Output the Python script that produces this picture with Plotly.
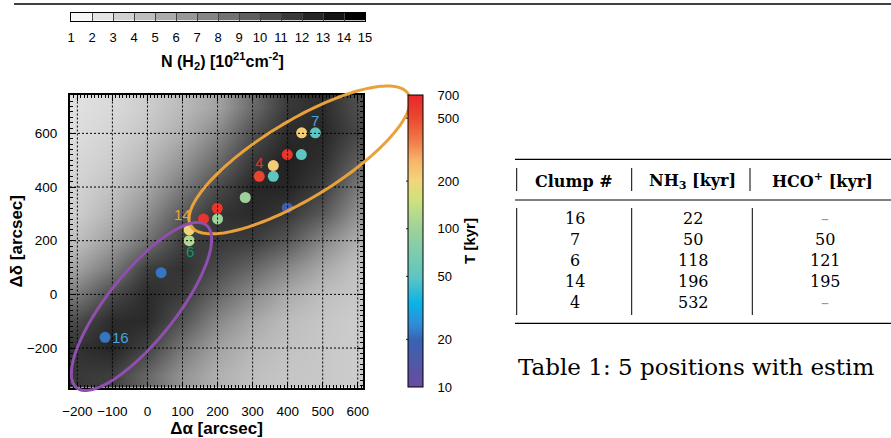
import numpy as np
import plotly.graph_objects as go

W, H = 891, 438
FONT = "Liberation Sans, Arial, sans-serif"
SERIF = "DejaVu Serif, serif"

# ---------------- data ----------------
# N(H2) column density map [1e21 cm^-2], estimated on a coarse grid
map_x = [-200, -100, 0, 100, 200, 300, 400, 500, 600]
map_y = [-300, -200, -100, 0, 100, 200, 300, 400, 500, 600, 700]
map_z = [
    [11.8, 11.5, 9.2, 6.6, 5.0, 4.2, 3.8, 3.7, 3.4],     # -300
    [12.2, 12.9, 11.3, 8.1, 5.8, 4.6, 4.0, 3.7, 3.4],    # -200
    [10.8, 12.6, 12.6, 10.2, 7.3, 5.5, 4.3, 3.8, 3.4],   # -100
    [8.1, 10.8, 12.6, 11.6, 9.2, 7.1, 5.3, 4.2, 3.7],    # 0
    [5.8, 8.1, 11.5, 12.2, 10.8, 9.2, 7.3, 5.4, 4.0],    # 100
    [4.2, 6.0, 8.6, 11.5, 11.8, 11.5, 10.0, 7.3, 5.0],   # 200
    [3.4, 4.8, 6.9, 10.0, 12.1, 12.6, 11.8, 9.9, 6.7],   # 300
    [3.1, 4.0, 5.6, 8.1, 10.8, 12.8, 12.9, 11.5, 8.1],   # 400
    [2.8, 3.4, 4.6, 6.5, 9.0, 11.8, 13.2, 12.3, 9.7],    # 500
    [2.5, 3.0, 3.8, 5.2, 7.3, 10.5, 12.6, 12.8, 11.0],   # 600
    [2.3, 2.7, 3.4, 4.5, 5.8, 9.0, 11.8, 12.5, 10.5],    # 700
]
nh2_levels = [1, 2, 3, 4, 5, 6, 7, 8, 9, 10, 11, 12, 13, 14, 15]

# clump positions [arcsec] and ages [kyr]
clump_x = [479, 440, 399, 439, 359, 319, 359, 279, 399, 199, 160, 200, 119, 119, 39, -121]
clump_y = [602, 602, 521, 521, 480, 440, 440, 361, 322, 321, 281, 281, 240, 200, 81, -160]
clump_T = [50, 220, 600, 50, 220, 532, 50, 100, 18, 600, 600, 100, 196, 118, 22, 22]

label_text = ["7", "4", "14", "6", "16"]
label_x = [479, 319, 100, 121, -76]
label_y = [648, 492, 298, 160, -160]
label_color = ["#4aa3df", "#e5302a", "#e8a33a", "#17936a", "#4aa3df"]

T_ticks = [10, 20, 50, 100, 200, 500, 700]

# ellipses: centre, two conjugate semi-axis vectors (data units)
ell_orange = dict(c=(434, 501), u=(310, 246), v=(58, -124), color="#e9a23b")
ell_purple = dict(c=(-17, -45), u=(185, 303), v=(76, -79), color="#8f4fae")

# table
tab_clump = ["16", "7", "6", "14", "4"]
tab_nh3 = ["22", "50", "118", "196", "532"]
tab_hco = ["–", "50", "121", "195", "–"]

# ---------------- layout geometry ----------------
XR = [-221, 615]
YR = [-347, 743]
XD = [70 / W, 363 / W]
YD = [1 - 387.5 / H, 1 - 95 / H]

def dx2p(x):
    return XD[0] + (x - XR[0]) / (XR[1] - XR[0]) * (XD[1] - XD[0])

def dy2p(y):
    return YD[0] + (y - YR[0]) / (YR[1] - YR[0]) * (YD[1] - YD[0])

def px(x):
    return x / W

def py(y):
    return 1 - y / H

T_scale = [
    [0.0, "#6a4c9c"], [0.160, "#3a62b2"], [0.217, "#2e8ed6"], [0.285, "#0ab2e8"],
    [0.373, "#5cc5c2"], [0.537, "#9ad29c"], [0.639, "#d0e07e"], [0.708, "#f2d67a"],
    [0.776, "#f7b36a"], [0.845, "#f07a48"], [0.919, "#ea4a30"], [1.0, "#e8262a"],
]
gray_scale = [[0, "#f7f7f7"], [1, "#000000"]]

fig = go.Figure()

fig.add_trace(go.Heatmap(
    x=map_x, y=map_y, z=map_z, zmin=1, zmax=15, zsmooth="best",
    colorscale=gray_scale, showscale=False, hoverinfo="skip",
    xaxis="x", yaxis="y"))

Tmin, Tmax = np.log10(T_ticks[0]), np.log10(T_ticks[-1])
fig.add_trace(go.Scatter(
    x=clump_x, y=clump_y, mode="markers", cliponaxis=False,
    marker=dict(size=11, color=np.log10(clump_T), cmin=Tmin, cmax=Tmax,
                colorscale=T_scale, line=dict(width=0),
                colorbar=dict(
                    x=408 / W, xanchor="left", xpad=0,
                    y=1 - (95 + 387) / 2 / H, yanchor="middle", ypad=0,
                    lenmode="pixels", len=292, thicknessmode="pixels", thickness=15,
                    outlinewidth=1, outlinecolor="black",
                    tickvals=np.log10(T_ticks), ticktext=[str(t) for t in T_ticks],
                    ticks="outside", ticklen=12, tickcolor="rgba(0,0,0,0)",
                    tickfont=dict(size=13, family=FONT, color="black"),
                    title=dict(text="<b>T [kyr]</b>", side="right",
                               font=dict(size=15, family=FONT, color="black")))),
    xaxis="x", yaxis="y", showlegend=False, hoverinfo="skip"))

# top N(H2) colour bar
bar_centers = [v + 0.5 for v in nh2_levels[:-1]]
fig.add_trace(go.Heatmap(
    x=bar_centers, y=[0.5], z=[bar_centers], zmin=bar_centers[0], zmax=bar_centers[-1],
    colorscale=gray_scale, showscale=False, hoverinfo="skip", xaxis="x2", yaxis="y2"))

shapes = []
# dotted grid above the map
for gx in range(-200, 601, 100):
    shapes.append(dict(type="line", xref="x", yref="y domain", x0=gx, x1=gx, y0=0, y1=1,
                       line=dict(color="black", width=1, dash="2px,2px"), layer="above"))
for gy in range(-200, 601, 200):
    shapes.append(dict(type="line", xref="x domain", yref="y", x0=0, x1=1, y0=gy, y1=gy,
                       line=dict(color="black", width=1, dash="2px,2px"), layer="above"))

# ellipses
for e in (ell_orange, ell_purple):
    pts = []
    for k in range(181):
        t = 2 * np.pi * k / 180
        ex = e["c"][0] + e["u"][0] * np.cos(t) + e["v"][0] * np.sin(t)
        ey = e["c"][1] + e["u"][1] * np.cos(t) + e["v"][1] * np.sin(t)
        pts.append(f"{dx2p(ex):.5f},{dy2p(ey):.5f}")
    shapes.append(dict(type="path", xref="paper", yref="paper",
                       path="M " + " L ".join(pts) + " Z",
                       line=dict(color=e["color"], width=3), layer="above"))

# colour bar tick dashes
for t in T_ticks[1:-1]:
    yy = 387 - (np.log10(t) - Tmin) / (Tmax - Tmin) * 292
    for x0, x1 in ((406, 412), (418, 423)):
        shapes.append(dict(type="line", xref="paper", yref="paper",
                           x0=px(x0), x1=px(x1), y0=py(yy), y1=py(yy),
                           line=dict(color="#222", width=1)))

# page rule at top
shapes.append(dict(type="line", xref="paper", yref="paper", x0=px(14), x1=1,
                   y0=py(4), y1=py(4), line=dict(color="black", width=1.5)))

# table rules
for yy, lw in ((159.3, 1.3), (200, 1.0), (323.3, 1.3)):
    shapes.append(dict(type="line", xref="paper", yref="paper", x0=px(515), x1=1,
                       y0=py(yy), y1=py(yy), line=dict(color="black", width=lw)))
for xx in (516.7, 631.7, 750):
    shapes.append(dict(type="line", xref="paper", yref="paper", x0=px(xx), x1=px(xx),
                       y0=py(168), y1=py(191), line=dict(color="black", width=1)))
for xx in (516.7, 631.7, 752.3):
    shapes.append(dict(type="line", xref="paper", yref="paper", x0=px(xx), x1=px(xx),
                       y0=py(208), y1=py(315), line=dict(color="black", width=1)))

def ann(x, y, text, size, family, color="black", xref="paper", yref="paper", xanchor="center"):
    return dict(x=x, y=y, xref=xref, yref=yref, text=text, showarrow=False,
                xanchor=xanchor, yanchor="middle",
                font=dict(size=size, family=family, color=color))

annotations = []
for txt, lx, ly, col in zip(label_text, label_x, label_y, label_color):
    annotations.append(ann(lx, ly, txt, 15, FONT, col, xref="x", yref="y"))

annotations.append(ann(px(222), py(61), "<b>N (H<sub>2</sub>) [10<sup>21</sup>cm<sup>-2</sup>]</b>",
                       16, FONT))

# table text
hdr = ["<b>Clump #</b>", "<b>NH<sub>3</sub> [kyr]</b>", "<b>HCO<sup>+</sup> [kyr]</b>"]
hdr_x = [574, 692, 822]
hdr_y = [181.7, 181.7, 179.5]
for t, xx, yy in zip(hdr, hdr_x, hdr_y):
    annotations.append(ann(px(xx), py(yy), t, 16, SERIF))
col_x = [575, 693, 825]
for i, (a, b, c) in enumerate(zip(tab_clump, tab_nh3, tab_hco)):
    yy = 218.3 + 21.1 * i
    for val, xx in zip((a, b, c), col_x):
        annotations.append(ann(px(xx), py(yy), val, 16, SERIF,
                               "#999" if val == "–" else "black"))
annotations.append(ann(px(516), py(366.7), "Table 1: 5 positions with estim", 23, SERIF,
                       xanchor="left"))

axis_common = dict(ticks="inside", tickcolor="black", tickwidth=1, ticklen=6,
                   mirror="allticks", showline=True, linewidth=2, linecolor="black",
                   showgrid=False, zeroline=False, layer="above traces",
                   tickfont=dict(size=13.5, family=FONT, color="black"),
                   automargin=False)

fig.update_layout(
    width=W, height=H, margin=dict(l=0, r=0, t=0, b=0),
    paper_bgcolor="white", plot_bgcolor="white", showlegend=False,
    font=dict(family=FONT, color="black"),
    xaxis=dict(domain=XD, range=XR, tick0=-200, dtick=100, anchor="y",
               minor=dict(ticks="inside", dtick=10, tick0=0, ticklen=3, tickcolor="black"),
               ticklabelstandoff=10,
               title=dict(text="<b>Δα [arcsec]</b>", standoff=2,
                          font=dict(size=17, family=FONT, color="black")),
               **axis_common),
    yaxis=dict(domain=YD, range=YR, tick0=-200, dtick=200, anchor="x",
               minor=dict(ticks="inside", dtick=20, tick0=0, ticklen=3, tickcolor="black"),
               ticklabelstandoff=8,
               title=dict(text="<b>Δδ [arcsec]</b>", standoff=0,
                          font=dict(size=17, family=FONT, color="black")),
               **axis_common),
    xaxis2=dict(domain=[71 / W, 365 / W], range=[1, 15], anchor="y2", tick0=1, dtick=1,
                ticks="inside", ticklen=8, tickcolor="#444", tickwidth=1,
                showline=True, mirror=True, linecolor="black", linewidth=1,
                layer="above traces", showgrid=False, zeroline=False,
                tickfont=dict(size=13, family=FONT, color="black"),
                ticklabelstandoff=5, automargin=False),
    yaxis2=dict(domain=[1 - 20.5 / H, 1 - 12.5 / H], range=[0, 1], anchor="x2",
                showticklabels=False, ticks="", showline=True, mirror=True,
                linecolor="black", linewidth=1, showgrid=False, zeroline=False,
                automargin=False),
    shapes=shapes, annotations=annotations,
)

fig.write_html("out.html", config={"displayModeBar": False},
               post_script="document.body.style.margin='0';document.body.style.overflow='hidden';")
